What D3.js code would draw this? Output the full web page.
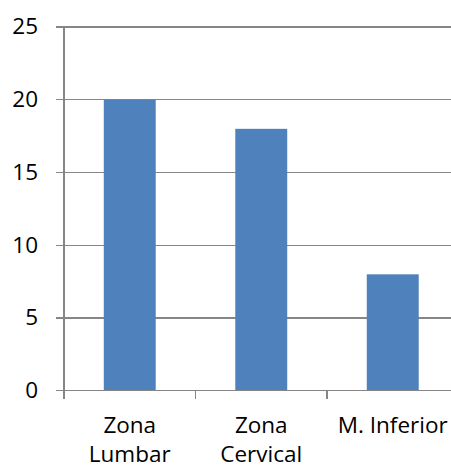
<!DOCTYPE html>
<html>
<head>
<meta charset="utf-8">
<script src="https://cdn.jsdelivr.net/npm/d3@7"></script>
<style>
html,body{margin:0;padding:0;background:#fff;}
svg{display:block;}
</style>
</head>
<body>
<script>
const categories = [["Zona","Lumbar"],["Zona","Cervical"],["M. Inferior"]];
const values = [20, 18, 8];
const yTicks = [0, 5, 10, 15, 20, 25];

const W = 451, H = 468;
const mLeft = 64, mTop = 27, mBottom = 390.7, step = 131.5;
const font = "'Open Sans', 'Liberation Sans', Arial, sans-serif";
const fsize = "22.5px";
const svg = d3.select("body").append("svg").attr("width", W).attr("height", H);

const keys = categories.map((c,i)=>i);
const x = d3.scaleBand().domain(keys).range([mLeft, mLeft + step*keys.length])
  .paddingInner(0.605).paddingOuter(0.3025);
const y = d3.scaleLinear().domain([0, 25]).range([mBottom, mTop]);

const gridColor = "#868686";
// gridlines
svg.append("g").selectAll("line").data(yTicks.filter(d=>d>0)).join("line")
  .attr("x1", mLeft).attr("x2", W).attr("y1", d=>y(d)).attr("y2", d=>y(d))
  .attr("stroke", gridColor).attr("stroke-width", 1.2).attr("shape-rendering","crispEdges");

// bars
svg.append("g").selectAll("rect").data(values).join("rect")
  .attr("x", (d,i)=>x(i)).attr("width", x.bandwidth())
  .attr("y", d=>y(d)).attr("height", d=>y(0)-y(d))
  .attr("fill", "#4F81BD");

// y axis
svg.append("line").attr("x1", mLeft).attr("x2", mLeft).attr("y1", mTop).attr("y2", mBottom)
  .attr("stroke", gridColor).attr("stroke-width", 1.2).attr("shape-rendering","crispEdges");
svg.append("g").selectAll("line").data(yTicks).join("line")
  .attr("x1", mLeft-8).attr("x2", mLeft).attr("y1", d=>y(d)).attr("y2", d=>y(d))
  .attr("stroke", gridColor).attr("stroke-width", 1.2).attr("shape-rendering","crispEdges");
svg.append("g").selectAll("text").data(yTicks).join("text")
  .attr("x", 38).attr("y", d=>y(d)).attr("dy","0.33em")
  .attr("text-anchor","end")
  .style("font-family", font).style("font-size", fsize)
  .attr("fill","#000").text(d=>d);

// x axis
svg.append("line").attr("x1", mLeft).attr("x2", W).attr("y1", y(0)).attr("y2", y(0))
  .attr("stroke", gridColor).attr("stroke-width", 1.2).attr("shape-rendering","crispEdges");
const bounds = d3.range(keys.length+1).map(i=>mLeft + i*x.step());
svg.append("g").selectAll("line").data(bounds).join("line")
  .attr("x1", d=>d).attr("x2", d=>d).attr("y1", y(0)).attr("y2", y(0)+8)
  .attr("stroke", gridColor).attr("stroke-width", 1.2).attr("shape-rendering","crispEdges");

const lbl = svg.append("g").selectAll("text").data(categories).join("text")
  .attr("text-anchor","middle")
  .style("font-family", font).style("font-size", fsize)
  .attr("fill","#000");
lbl.selectAll("tspan").data((d,i)=>d.map((t,j)=>({t,j,i}))).join("tspan")
  .attr("x", d=>x(d.i)+x.bandwidth()/2).attr("y", d=>433 + d.j*29)
  .text(d=>d.t);
</script>
</body>
</html>
